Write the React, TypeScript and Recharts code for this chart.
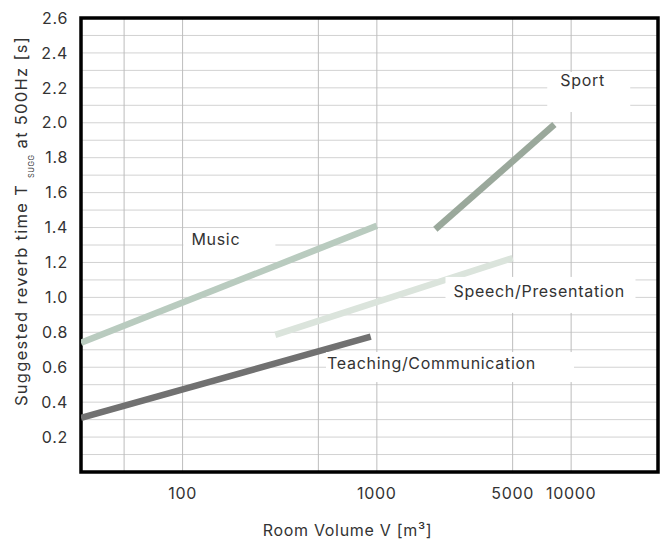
import React from 'react';
import { LineChart, Line, XAxis, YAxis, CartesianGrid, ReferenceArea, ReferenceDot } from 'recharts';

// ---- data ----
const volumeTicks = [50, 100, 500, 1000, 5000, 10000];
const labeledVolumeTicks = [100, 1000, 5000, 10000];
const timeTicks = [0.1, 0.2, 0.3, 0.4, 0.5, 0.6, 0.7, 0.8, 0.9, 1.0, 1.1, 1.2, 1.3, 1.4, 1.5, 1.6, 1.7, 1.8, 1.9, 2.0, 2.1, 2.2, 2.3, 2.4, 2.5, 2.6];
const labeledTimeTicks = [0.2, 0.4, 0.6, 0.8, 1.0, 1.2, 1.4, 1.6, 1.8, 2.0, 2.2, 2.4, 2.6];

const music = [{ v: 30, t: 0.74 }, { v: 1000, t: 1.41 }];
const speech = [{ v: 300, t: 0.785 }, { v: 5000, t: 1.225 }];
const teaching = [{ v: 30, t: 0.31 }, { v: 930, t: 0.775 }];
const sport = [{ v: 2000, t: 1.39 }, { v: 8200, t: 1.99 }];

const seriesLabels = [
  { key: 'music', text: 'Music', v: 111, t: 1.334 },
  { key: 'sport', text: 'Sport', v: 8790, t: 2.245 },
  { key: 'speech', text: 'Speech/Presentation', v: 2480, t: 1.037 },
  { key: 'teaching', text: 'Teaching/Communication', v: 554, t: 0.624 },
];

const xAxisTitle = 'Room Volume V [m³]';

// ---- styles ----
const CHART_W = 660;
const CHART_H = 532;
const FONT = 'Inter, Roboto, sans-serif';
const TEXT = '#333333';
const FS = 16;
const LS = 0.7;
const labelBox: Record<string, { padL: number; padTop: number; w: number; h: number }> = {
  music: { padL: 8, padTop: 10, w: 92, h: 31 },
  sport: { padL: 13, padTop: 8, w: 83, h: 40 },
  speech: { padL: 8, padTop: 14, w: 190, h: 36 },
  teaching: { padL: 1, padTop: 11, w: 248, h: 30 },
};

const makeLabelShape = (key: string, text: string) => (props: any) => {
  const { cx, cy } = props;
  const b = labelBox[key];
  return (
    <g>
      <rect x={cx - b.padL} y={cy - b.padTop} width={b.w} height={b.h} fill="#ffffff" />
      <text x={cx} y={cy} dominantBaseline="central" fontFamily={FONT} fontSize={FS} letterSpacing={LS} fill={TEXT}>
        {text}
      </text>
    </g>
  );
};

const XLabel = (props: any) => {
  const vb = props.viewBox;
  return (
    <text x={vb.x + vb.width / 2 - 22} y={CHART_H - 10} textAnchor="middle" dominantBaseline="central" fontFamily={FONT} fontSize={FS} letterSpacing={LS} fill={TEXT}>
      {xAxisTitle}
    </text>
  );
};

const YLabel = (props: any) => {
  const vb = props.viewBox;
  const x = 19;
  const y = vb.y + vb.height / 2 - 24;
  return (
    <text x={x} y={y} transform={`rotate(-90, ${x}, ${y})`} textAnchor="middle" fontFamily={FONT} fontSize={16.5} letterSpacing={1.3} fill={TEXT}>
      <tspan>Suggested reverb time T </tspan>
      <tspan fontSize={7.5} letterSpacing={0.5} dy={7}>SUGG</tspan>
      <tspan dy={-7}> at 500Hz [s]</tspan>
    </text>
  );
};

const tickStyle = { fontFamily: FONT, fontSize: FS, fill: TEXT, letterSpacing: LS };

export default function App() {
  return (
    <LineChart width={CHART_W} height={CHART_H} margin={{ top: 10, right: 10, left: 0, bottom: 0 }}>
      <CartesianGrid vertical={false} stroke="#d2d2d2" strokeWidth={1} />
      <CartesianGrid horizontal={false} stroke="#bdbdbd" strokeWidth={1} />
      <XAxis
        dataKey="v"
        type="number"
        scale="log"
        domain={[30, 28000]}
        allowDataOverflow
        ticks={volumeTicks}
        tickFormatter={(v: number) => (labeledVolumeTicks.includes(v) ? String(v) : '')}
        axisLine={false}
        tickLine={false}
        tickSize={6}
        tickMargin={10}
        height={68}
        tick={tickStyle}
        label={<XLabel />}
      />
      <YAxis
        type="number"
        domain={[0, 2.6]}
        allowDataOverflow
        ticks={timeTicks}
        tickFormatter={(t: number) => (labeledTimeTicks.some((l) => Math.abs(l - t) < 1e-6) ? t.toFixed(1) : '')}
        axisLine={false}
        tickLine={false}
        tickSize={6}
        tickMargin={7}
        width={73}
        interval={0}
        tick={tickStyle}
        label={<YLabel />}
      />
      {seriesLabels.map((l) => (
        <ReferenceDot key={l.key} x={l.v} y={l.t} r={1} shape={makeLabelShape(l.key, l.text)} />
      ))}
      <Line data={music} dataKey="t" type="linear" stroke="#b9cbbf" strokeWidth={6.5} dot={false} activeDot={false} isAnimationActive={false} />
      <Line data={speech} dataKey="t" type="linear" stroke="#dbe4dc" strokeWidth={6.5} dot={false} activeDot={false} isAnimationActive={false} />
      <Line data={teaching} dataKey="t" type="linear" stroke="#717171" strokeWidth={6.5} dot={false} activeDot={false} isAnimationActive={false} />
      <Line data={sport} dataKey="t" type="linear" stroke="#9aa89b" strokeWidth={6.5} dot={false} activeDot={false} isAnimationActive={false} />
      <ReferenceArea x1={30} x2={28000} y1={0} y2={2.6} fill="none" stroke="#000000" strokeWidth={3.5} ifOverflow="visible" />
    </LineChart>
  );
}
